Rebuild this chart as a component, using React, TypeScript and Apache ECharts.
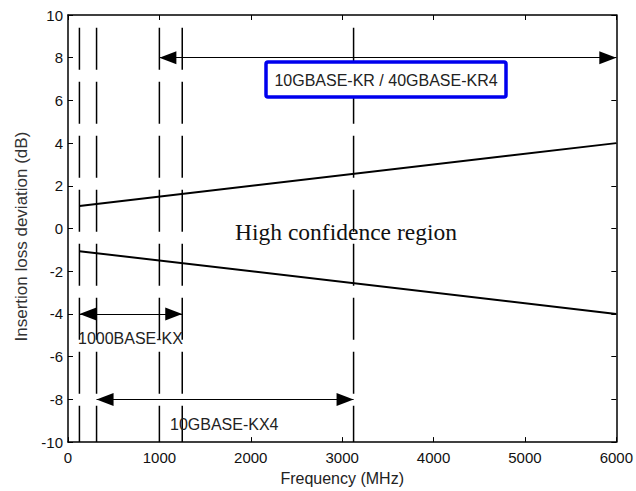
import React, { useEffect, useRef } from "react";
import * as echarts from "echarts";

// ---- data ----
const xTicks = { min: 0, max: 6000, interval: 1000 };
const yTicks = { min: -10, max: 10, interval: 2 };
const markerFreqs = [125, 312.5, 1000, 1250, 3125];
const markerTop = 9.4;
const markerBottom = -10;
const upperLimit = [
  [125, 1.06],
  [6000, 4.0],
];
const lowerLimit = [
  [125, -1.06],
  [6000, -4.0],
];
const spanNames = ["10GBASE-KR / 40GBASE-KR4", "1000BASE-KX", "10GBASE-KX4"];
const spanFrom = [1000, 125, 312.5];
const spanTo = [6000, 1250, 3125];
const spanLevel = [8, -4, -8];

export default function App() {
  const ref = useRef<HTMLDivElement>(null);
  useEffect(() => {
    if (!ref.current) return;
    const chart = echarts.init(ref.current, null, { renderer: "svg" });
    const sans = "Liberation Sans, Arial, sans-serif";
    const serif = "Liberation Serif, Times New Roman, serif";
    const plain = (v: number) => String(v);

    const markerSeries = markerFreqs.map((f) => ({
      type: "line",
      data: [
        [f, markerTop],
        [f, markerBottom],
      ],
      symbol: "none",
      silent: true,
      lineStyle: { color: "#000", width: 1.5, type: [42, 12] },
      z: 2,
    }));

    const spanData = spanNames.map((n, i) => [
      { coord: [spanFrom[i], spanLevel[i]] },
      { coord: [spanTo[i], spanLevel[i]] },
    ]);

    const axisLine = { onZero: false, lineStyle: { color: "#000", width: 1.5 } };
    const axisTick = { inside: true, length: 5, lineStyle: { color: "#000" } };

    const option: any = {
      animation: false,
      backgroundColor: "#fff",
      grid: { left: 68, right: 19, top: 15, bottom: 44, containLabel: false },
      xAxis: [
        {
          type: "value",
          min: xTicks.min,
          max: xTicks.max,
          interval: xTicks.interval,
          name: "Frequency (MHz)",
          nameLocation: "middle",
          nameGap: 27,
          nameTextStyle: { fontFamily: sans, fontSize: 16, color: "#222" },
          axisLine,
          axisTick,
          axisLabel: { fontFamily: sans, fontSize: 15, color: "#111", margin: 8, formatter: plain },
          splitLine: { show: false },
        },
        {
          type: "value",
          position: "top",
          min: xTicks.min,
          max: xTicks.max,
          interval: xTicks.interval,
          axisLine,
          axisTick,
          axisLabel: { show: false },
          splitLine: { show: false },
        },
      ],
      yAxis: [
        {
          type: "value",
          min: yTicks.min,
          max: yTicks.max,
          interval: yTicks.interval,
          name: "Insertion loss deviation (dB)",
          nameLocation: "middle",
          nameGap: 38,
          nameTextStyle: { fontFamily: sans, fontSize: 17, color: "#333", padding: [0, 16, 0, 0] },
          axisLine,
          axisTick,
          axisLabel: { fontFamily: sans, fontSize: 15, color: "#111", margin: 5, formatter: plain },
          splitLine: { show: false },
        },
        {
          type: "value",
          position: "right",
          min: yTicks.min,
          max: yTicks.max,
          interval: yTicks.interval,
          axisLine,
          axisTick,
          axisLabel: { show: false },
          splitLine: { show: false },
        },
      ],
      series: [
        ...markerSeries,
        {
          type: "line",
          data: upperLimit,
          symbol: "none",
          silent: true,
          lineStyle: { color: "#000", width: 2 },
          z: 3,
        },
        {
          type: "line",
          data: lowerLimit,
          symbol: "none",
          silent: true,
          lineStyle: { color: "#000", width: 2 },
          z: 3,
        },
        {
          type: "line",
          data: [],
          symbol: "none",
          silent: true,
          markLine: {
            silent: true,
            symbol: ["triangle", "triangle"],
            symbolSize: [13, 17],
            symbolOffset: [
              [0, 8.5],
              [0, 8.5],
            ],
            label: { show: false },
            lineStyle: { color: "#000", width: 1.2, type: "solid" },
            itemStyle: { color: "#000" },
            data: spanData,
          },
          z: 4,
        },
      ],
      graphic: [
        {
          type: "rect",
          shape: { x: 266, y: 62, width: 240, height: 35, r: 2 },
          style: { fill: "#fff", stroke: "#0000ee", lineWidth: 3.5 },
          z: 10,
        },
        {
          type: "text",
          x: 386,
          y: 80,
          style: {
            text: spanNames[0],
            fontFamily: sans,
            fontSize: 16,
            fill: "#222",
            align: "center",
            verticalAlign: "middle",
          },
          z: 11,
        },
        {
          type: "text",
          x: 78,
          y: 338,
          style: {
            text: spanNames[1],
            fontFamily: sans,
            fontSize: 16,
            fill: "#222",
            align: "left",
            verticalAlign: "middle",
          },
          z: 11,
        },
        {
          type: "text",
          x: 170,
          y: 424,
          style: {
            text: spanNames[2],
            fontFamily: sans,
            fontSize: 16,
            fill: "#222",
            align: "left",
            verticalAlign: "middle",
          },
          z: 11,
        },
        {
          type: "text",
          x: 346,
          y: 232,
          style: {
            text: "High confidence region",
            fontFamily: serif,
            fontSize: 23.5,
            fill: "#111",
            align: "center",
            verticalAlign: "middle",
          },
          z: 11,
        },
      ],
    };
    chart.setOption(option);
    return () => chart.dispose();
  }, []);
  return (
    <div
      ref={ref}
      style={{ position: "fixed", left: 0, top: 0, width: 636, height: 491, background: "#fff" }}
    />
  );
}
